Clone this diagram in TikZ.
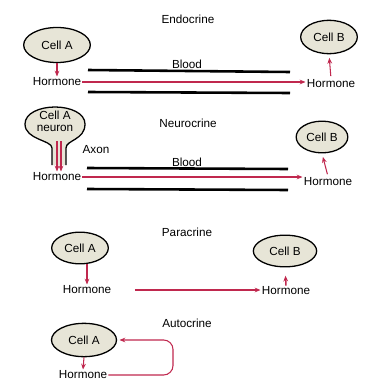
\documentclass[tikz,border=0pt]{standalone}
\usepackage{fontspec}
\setmainfont{Liberation Sans}
\usetikzlibrary{positioning,arrows.meta,shapes.geometric}
\definecolor{hormred}{HTML}{C0284E}
\definecolor{cellfill}{HTML}{E7E5D7}
\tikzset{
  cell/.style={ellipse, draw=black, line width=1.1pt, fill=cellfill, inner sep=0pt},
  hormarrow/.style={hormred, line width=0.9pt, -{Stealth[length=5pt,width=4pt]}},
  vessel/.style={black, line width=2.2pt},
  lbl/.style={font=\normalsize, inner sep=1pt}
}

\begin{document}
\begin{tikzpicture}[x=0.03cm, y=-0.03cm]
  \useasboundingbox (0,0) rectangle (372,389);

  % Endocrine
  \node[lbl] (titleE) at (188,19) {Endocrine};
  \node[cell, minimum width=2.0cm, minimum height=1.05cm] (cellAE) at (57,45) {Cell A};
  \node[cell, minimum width=1.7cm, minimum height=1.0cm] (cellBE) at (329,37) {Cell B};
  \node[lbl] (hormAE) at (57,82) {Hormone};
  \node[lbl] (hormBE) at (331,84) {Hormone};
  \node[lbl] (bloodE) at (187,64) {Blood};
  \draw[vessel] (88,70) -- (290,72);
  \draw[vessel] (88,92) -- (290,93);
  \draw[hormarrow] (hormAE.east) -- (hormAE.east -| hormBE.west);
  \draw[hormarrow] (cellAE.south) -- (hormAE.north);
  \draw[hormarrow, shorten <=2pt, shorten >=3pt] (hormBE.north) -- (cellBE.south);

  % Neurocrine
  \node[lbl] (titleN) at (188,123) {Neurocrine};
  \filldraw[fill=cellfill, draw=black, line width=1.1pt]
    (52,165) -- (52,148) .. controls (52,140) and (25,140) .. (25,124)
    .. controls (25,113) and (40,107) .. (55,107)
    .. controls (70,107) and (85,113) .. (85,124)
    .. controls (85,140) and (66,140) .. (66,148) -- (66,165);
  \node[lbl, align=center, font=\normalsize\linespread{0.85}\selectfont] (neuronA) at (55,121) {Cell A\\neuron};
  \node[cell, minimum width=1.55cm, minimum height=0.95cm] (cellBN) at (322,137) {Cell B};
  \node[lbl] (hormAN) at (57,177) {Hormone};
  \node[lbl] (hormBN) at (328,182) {Hormone};
  \node[lbl] (axon) at (96,150) {Axon};
  \node[lbl] (bloodN) at (187,162) {Blood};
  \coordinate (axonL) at (57,141);
  \coordinate (axonR) at (61,141);
  \draw[vessel] (87,168) -- (288,169);
  \draw[vessel] (87,189) -- (288,190);
  \draw[hormarrow] (hormAN.east) -- (hormAN.east -| hormBN.west);
  \draw[hormarrow] (axonL) -- (axonL |- hormAN.north);
  \draw[hormarrow] (axonR) -- (axonR |- hormAN.north);
  \draw[hormarrow, shorten <=2pt, shorten >=3pt] (hormBN.north) -- (cellBN.south);

  % Paracrine
  \node[lbl] (titleP) at (187,232) {Paracrine};
  \node[cell, minimum width=1.7cm, minimum height=0.95cm] (cellAP) at (80,248) {Cell A};
  \node[cell, minimum width=1.9cm, minimum height=0.95cm] (cellBP) at (285,251) {Cell B};
  \node[lbl] (hormAP) at (87,290) {Hormone};
  \node[lbl] (hormBP) at (286,291) {Hormone};
  \draw[hormarrow, shorten <=19pt] (hormAP.east) -- (hormAP.east -| hormBP.west);
  \draw[hormarrow] (cellAP.south -| hormAP.north) -- (hormAP.north);
  \draw[hormarrow, line width=1.3pt, shorten >=7pt] (hormBP.north) -- (cellBP.south);

  % Autocrine
  \node[lbl] (titleA) at (187,323) {Autocrine};
  \node[cell, minimum width=1.95cm, minimum height=1.0cm] (cellAA) at (84,340) {Cell A};
  \node[lbl] (hormAA) at (83,375) {Hormone};
  \coordinate (loopR) at (173,358);
  \draw[hormarrow] (cellAA.south) -- (hormAA.north);
  \draw[hormarrow, rounded corners=8pt, shorten >=2pt] (hormAA.east) -- (hormAA.east -| loopR) |- (cellAA.east);
\end{tikzpicture}
\end{document}
